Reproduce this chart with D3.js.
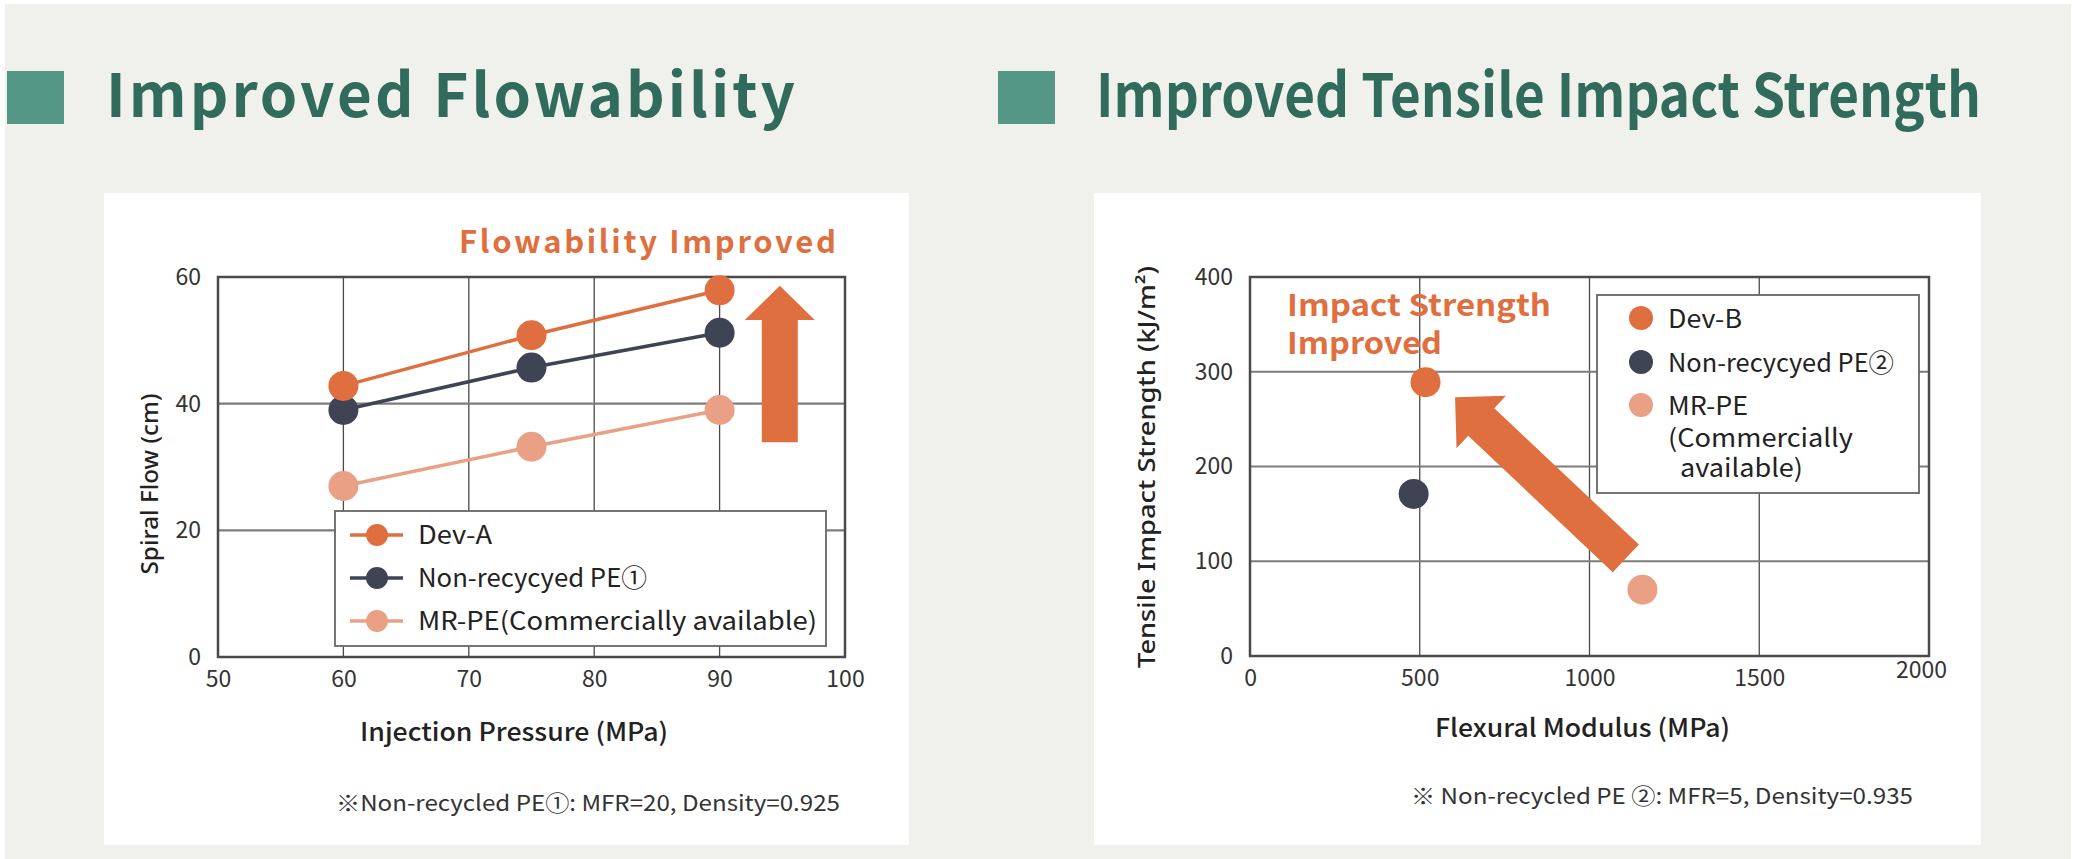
<!DOCTYPE html>
<html>
<head>
<meta charset="utf-8">
<script src="https://cdn.jsdelivr.net/npm/d3@7"></script>
<style>
  body { margin: 0; background: #fff; }
  svg { display: block; }
</style>
</head>
<body>
<script>
// ---- data ----
var pressure = [60, 75, 90];                 // Injection Pressure (MPa)
var devA = [42.8, 50.8, 57.9];               // Spiral Flow (cm)
var nonRecycled1 = [39, 45.7, 51.2];
var mrPE1 = [27, 33.2, 39];
var flowNames = ["Dev-A", "Non-recycyed PE①", "MR-PE(Commercially available)"];

var impactNames = ["Dev-B", "Non-recycyed PE②", "MR-PE"];
var flexModulus = [517, 482, 1156];          // Flexural Modulus (MPa)
var impactStrength = [289, 171, 70];         // Tensile Impact Strength (kJ/m2)

var xTicksFlow = [50, 60, 70, 80, 90, 100];
var yTicksFlow = [0, 20, 40, 60];
var xTicksImpact = [0, 500, 1000, 1500, 2000];
var yTicksImpact = [0, 100, 200, 300, 400];

var colors = ["#e06f40", "#3f4455", "#eaa084"];
var font = "'Noto Sans CJK JP', 'Noto Sans', sans-serif";

var w = 2087, h = 859;

var svg = d3.select("body").append("svg")
    .attr("width", w)
    .attr("height", h)
    .style("font-family", font);

// page background
svg.append("rect").attr("width", w).attr("height", h).attr("fill", "#fff");
svg.append("rect").attr("x", 5).attr("y", 4).attr("width", 2066).attr("height", 855).attr("fill", "#f0f0ec");

// fit a text element to a measured width
function fit(sel, width, adjust) {
    sel.attr("textLength", width).attr("lengthAdjust", adjust || "spacingAndGlyphs");
    return sel;
}

// section headings
function heading(x, tx, label, width, adjust) {
    svg.append("rect").attr("x", x).attr("y", 71).attr("width", 57).attr("height", 53).attr("fill", "#559785");
    fit(svg.append("text")
        .attr("x", tx).attr("y", 117)
        .attr("font-size", 60).attr("font-weight", 700)
        .attr("fill", "#306b5c")
        .text(label), width, adjust);
}
heading(7, 106, "Improved Flowability", 689, "spacing");
heading(998, 1096, "Improved Tensile Impact Strength", 885);

// white cards
svg.append("rect").attr("x", 104).attr("y", 193).attr("width", 805).attr("height", 652).attr("fill", "#fff");
svg.append("rect").attr("x", 1094).attr("y", 193).attr("width", 887).attr("height", 652).attr("fill", "#fff");

// draws gridlines, frame and tick labels for one panel
function panel(x, y, xTicks, yTicks) {
    var g = svg.append("g");
    var r = x.range(), d = y.range();

    g.selectAll(".vgrid").data(xTicks.slice(1, -1)).enter().append("line")
        .attr("x1", v => x(v)).attr("x2", v => x(v))
        .attr("y1", d[1]).attr("y2", d[0])
        .attr("stroke", "#4a4a4a").attr("stroke-width", 1.3);

    g.selectAll(".hgrid").data(yTicks.slice(1, -1)).enter().append("line")
        .attr("x1", r[0]).attr("x2", r[1])
        .attr("y1", v => y(v)).attr("y2", v => y(v))
        .attr("stroke", "#7c7c7c").attr("stroke-width", 2.2);

    g.append("rect")
        .attr("x", r[0]).attr("y", d[1])
        .attr("width", r[1] - r[0]).attr("height", d[0] - d[1])
        .attr("fill", "none").attr("stroke", "#4a4a4a").attr("stroke-width", 2.5);

    var xAxis = g.append("g")
        .attr("transform", "translate(0," + d[0] + ")")
        .call(d3.axisBottom(x).tickValues(xTicks).tickFormat(d3.format("d")).tickSize(0).tickPadding(14));
    var yAxis = g.append("g")
        .attr("transform", "translate(" + r[0] + ",0)")
        .call(d3.axisLeft(y).tickValues(yTicks).tickFormat(d3.format("d")).tickSize(0).tickPadding(17));

    [xAxis, yAxis].forEach(function(a) {
        a.select(".domain").remove();
        a.selectAll("text")
         .attr("font-family", font)
         .attr("font-size", 23)
         .attr("fill", "#333");
    });
    return { g: g, xAxis: xAxis, yAxis: yAxis };
}

// ---------------- left chart: spiral flow ----------------
var xL = d3.scaleLinear().domain([50, 100]).range([218, 845]);
var yL = d3.scaleLinear().domain([0, 60]).range([657, 277]);
panel(xL, yL, xTicksFlow, yTicksFlow);

var flowSeries = [devA, nonRecycled1, mrPE1];
var line = d3.line().x((d, i) => xL(pressure[i])).y(d => yL(d));

// draw lightest series first so the darker ones sit on top
[2, 1, 0].forEach(function(s) {
    svg.append("path")
        .datum(flowSeries[s])
        .attr("d", line)
        .attr("fill", "none")
        .attr("stroke", colors[s])
        .attr("stroke-width", 3.5);
    svg.selectAll(".pt" + s)
        .data(flowSeries[s])
        .enter().append("circle")
        .attr("cx", (d, i) => xL(pressure[i]))
        .attr("cy", d => yL(d))
        .attr("r", 15)
        .attr("fill", colors[s]);
});

// up arrow
var ax = xL(94.8), aTip = yL(58.6), aBase = yL(53.2), aEnd = yL(33.9);
svg.append("polygon")
    .attr("points", [
        [ax, aTip], [ax + 35, aBase], [ax + 18, aBase], [ax + 18, aEnd],
        [ax - 18, aEnd], [ax - 18, aBase], [ax - 35, aBase]
    ].join(" "))
    .attr("fill", "#e06f40");

fit(svg.append("text")
    .attr("x", 459).attr("y", 253)
    .attr("font-size", 31).attr("font-weight", 700)
    .attr("fill", "#e06f40")
    .text("Flowability Improved"), 377, "spacing");

// legend
var legL = svg.append("g");
legL.append("rect")
    .attr("x", 335).attr("y", 511).attr("width", 491).attr("height", 135)
    .attr("fill", "#fff").attr("stroke", "#666").attr("stroke-width", 1.8);
var legWidthsL = [74, 229, 399];
flowNames.forEach(function(name, i) {
    var cy = 535 + i * 43;
    legL.append("line").attr("x1", 350).attr("x2", 403).attr("y1", cy).attr("y2", cy)
        .attr("stroke", colors[i]).attr("stroke-width", 3.5);
    legL.append("circle").attr("cx", 377).attr("cy", cy).attr("r", 11).attr("fill", colors[i]);
    fit(legL.append("text")
        .attr("x", 418).attr("y", cy + 9)
        .attr("font-size", 25).attr("fill", "#222")
        .text(name), legWidthsL[i]);
});

// axis titles and note
fit(svg.append("text")
    .attr("x", 360).attr("y", 741)
    .attr("font-size", 25).attr("font-weight", 500).attr("fill", "#222")
    .text("Injection Pressure (MPa)"), 308);

fit(svg.append("text")
    .attr("transform", "translate(158,484) rotate(-90)")
    .attr("text-anchor", "middle")
    .attr("font-family", "'Noto Sans', sans-serif")
    .attr("font-size", 23).attr("font-weight", 500).attr("fill", "#222")
    .text("Spiral Flow (cm)"), 181);

fit(svg.append("text")
    .attr("x", 336).attr("y", 811)
    .attr("font-size", 22).attr("fill", "#333")
    .text("※Non-recycled PE①: MFR=20, Density=0.925"), 504);

// ---------------- right chart: tensile impact ----------------
var xR = d3.scaleLinear().domain([0, 2000]).range([1250, 1929]);
var yR = d3.scaleLinear().domain([0, 400]).range([656, 277]);
var pR = panel(xR, yR, xTicksImpact, yTicksImpact);

// the 2000 label sits a little higher in the original
pR.xAxis.selectAll(".tick").filter(d => d === 2000).select("text")
    .attr("dx", -8).attr("dy", "0.35em");

// legend
var legR = svg.append("g");
legR.append("rect")
    .attr("x", 1597).attr("y", 295).attr("width", 322).attr("height", 198)
    .attr("fill", "#fff").attr("stroke", "#666").attr("stroke-width", 1.8);
var legRows = [
    { t: "Dev-B", y: 328, w: 74, dot: 0 },
    { t: "Non-recycyed PE②", y: 372, w: 226, dot: 1 },
    { t: "MR-PE", y: 415, w: 80, dot: 2 },
    { t: "(Commercially", y: 447, w: 185 },
    { t: "available)", y: 477, w: 123, x: 1680 }
];
legRows.forEach(function(row) {
    if (row.dot !== undefined) {
        legR.append("circle").attr("cx", 1641).attr("cy", row.y - 10).attr("r", 12)
            .attr("fill", colors[row.dot]);
    }
    fit(legR.append("text")
        .attr("x", row.x || 1668).attr("y", row.y)
        .attr("font-size", 25).attr("fill", "#222")
        .text(row.t), row.w);
});

// points
svg.selectAll(".imp")
    .data(flexModulus)
    .enter().append("circle")
    .attr("cx", d => xR(d))
    .attr("cy", (d, i) => yR(impactStrength[i]))
    .attr("r", 15)
    .attr("fill", (d, i) => colors[i]);

// diagonal arrow from MR-PE towards Dev-B
var tip = [xR(604), yR(273)], tail = [xR(1107), yR(103)];
var dx = tail[0] - tip[0], dy = tail[1] - tip[1], len = Math.sqrt(dx * dx + dy * dy);
var ux = dx / len, uy = dy / len, px = -uy, py = ux;
function pt(along, side) { return [tip[0] + ux * along + px * side, tip[1] + uy * along + py * side]; }
svg.append("polygon")
    .attr("points", [
        pt(0, 0), pt(36, 36), pt(36, 19), pt(len, 19),
        pt(len, -19), pt(36, -19), pt(36, -36)
    ].join(" "))
    .attr("fill", "#e06f40");

fit(svg.append("text")
    .attr("x", 1287).attr("y", 316)
    .attr("font-size", 30).attr("font-weight", 700).attr("fill", "#e06f40")
    .text("Impact Strength"), 264);
fit(svg.append("text")
    .attr("x", 1287).attr("y", 354)
    .attr("font-size", 30).attr("font-weight", 700).attr("fill", "#e06f40")
    .text("Improved"), 155);

fit(svg.append("text")
    .attr("x", 1435).attr("y", 737)
    .attr("font-size", 25).attr("font-weight", 500).attr("fill", "#222")
    .text("Flexural Modulus (MPa)"), 295);

fit(svg.append("text")
    .attr("transform", "translate(1155,467) rotate(-90)")
    .attr("text-anchor", "middle")
    .attr("font-family", "'Noto Sans', sans-serif")
    .attr("font-size", 23).attr("font-weight", 500).attr("fill", "#222")
    .text("Tensile Impact Strength (kJ/m²)"), 402);

fit(svg.append("text")
    .attr("x", 1411).attr("y", 804)
    .attr("font-size", 22).attr("fill", "#333")
    .text("※ Non-recycled PE ②: MFR=5, Density=0.935"), 502);
</script>
</body>
</html>
